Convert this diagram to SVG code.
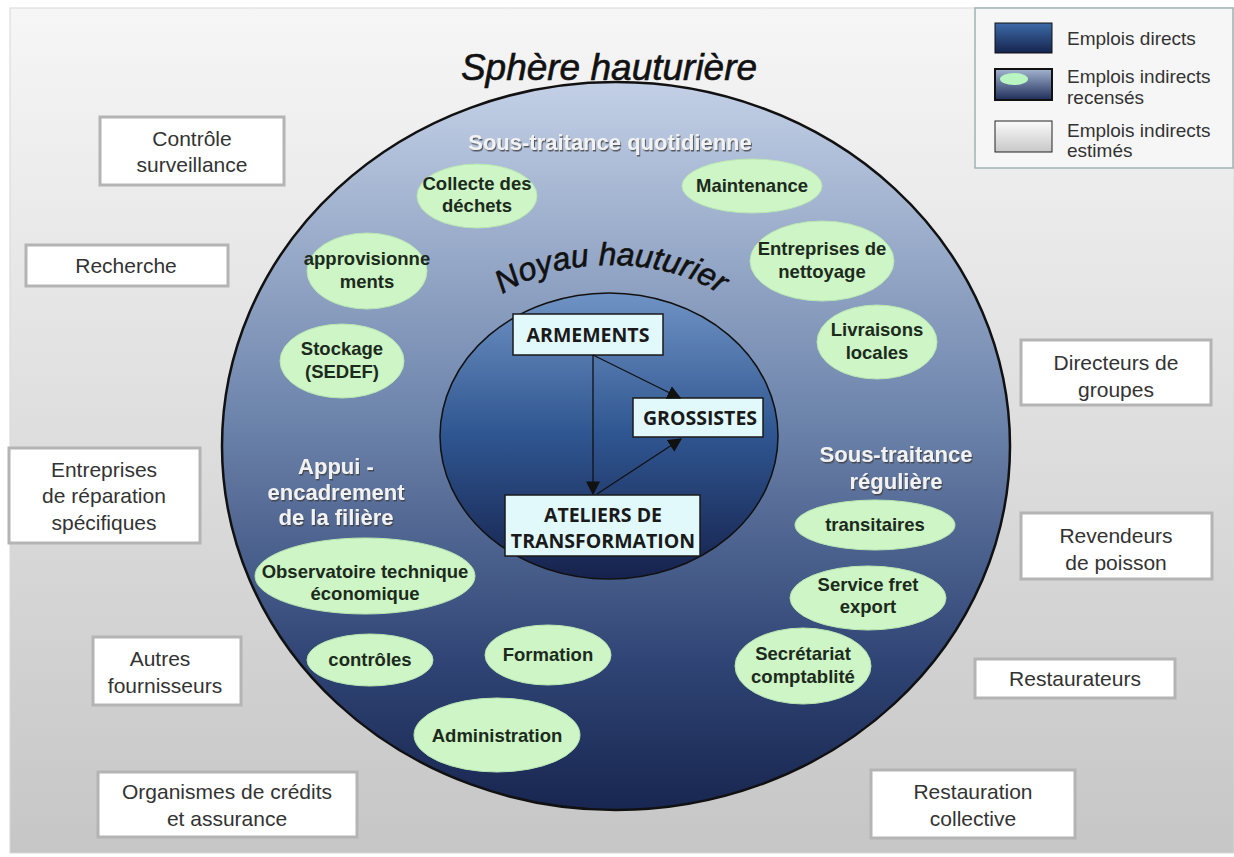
<svg xmlns="http://www.w3.org/2000/svg" width="1234" height="857" viewBox="0 0 1234 857">
<defs>
<linearGradient id="bg" x1="0" y1="0" x2="0" y2="1"><stop offset="0" stop-color="#f6f6f6"/><stop offset="1" stop-color="#c6c6c6"/></linearGradient>
<linearGradient id="outer" x1="0" y1="0" x2="0" y2="1"><stop offset="0" stop-color="#c3d0e6"/><stop offset="0.45" stop-color="#6f86ad"/><stop offset="0.8" stop-color="#2f4474"/><stop offset="1" stop-color="#182650"/></linearGradient>
<linearGradient id="inner" x1="0" y1="0" x2="0" y2="1"><stop offset="0" stop-color="#6f93c4"/><stop offset="0.5" stop-color="#2f5590"/><stop offset="1" stop-color="#16224c"/></linearGradient>
<linearGradient id="lg1" x1="0" y1="0" x2="0" y2="1"><stop offset="0" stop-color="#3d6aa8"/><stop offset="1" stop-color="#15244e"/></linearGradient>
<linearGradient id="lg2" x1="0" y1="0" x2="0" y2="1"><stop offset="0" stop-color="#a3b4d0"/><stop offset="1" stop-color="#1e2e5a"/></linearGradient>
<linearGradient id="lg3" x1="0" y1="0" x2="0" y2="1"><stop offset="0" stop-color="#fafafa"/><stop offset="1" stop-color="#c8c8c8"/></linearGradient>
<filter id="ts" x="-10%" y="-20%" width="120%" height="150%"><feDropShadow dx="1" dy="1.5" stdDeviation="0.6" flood-color="#3a3a3a" flood-opacity="0.8"/></filter>
<marker id="ah2" viewBox="0 0 10 10" refX="9" refY="5" markerWidth="14" markerHeight="14" orient="auto" markerUnits="userSpaceOnUse"><path d="M0,0 L10,5 L0,10 z" fill="#111"/></marker>
<path id="noyauArc" d="M471,345 A140,80 0 0 1 751,345"/>
</defs>
<style>
.box{fill:#ffffff;stroke:#b4b4b4;stroke-width:3}
.bt{font-family:"Liberation Sans",Arial,sans-serif;font-size:21px;fill:#333;text-anchor:middle}
.ell{fill:#cdf5c6;stroke:#b9e6b2;stroke-width:1}
.et{font-family:"Liberation Sans",Arial,sans-serif;font-weight:bold;font-size:18.5px;fill:#1c2a1c;text-anchor:middle}
.wt{font-family:"Liberation Sans",Arial,sans-serif;font-weight:bold;fill:#f2f2f2;text-anchor:middle;filter:url(#ts)}
.core{fill:#e2f9fc;stroke:#1a1a1a;stroke-width:1.5}
.ct{font-family:"Open Sans","Liberation Sans",sans-serif;font-weight:bold;font-size:19.5px;fill:#1a1a1a;text-anchor:middle}
.lt{font-family:"Liberation Sans",Arial,sans-serif;font-size:19px;fill:#333}
.conn{stroke:#111;stroke-width:1.3;fill:none}
</style>
<rect x="0" y="0" width="1234" height="857" fill="#ffffff"/>
<rect x="10" y="8" width="1224" height="845" fill="url(#bg)" stroke="#d8d8d8" stroke-width="1"/>

<g id="legend">
<rect x="975" y="8" width="258" height="160" fill="#f6f6f6" stroke="#9fb3b3" stroke-width="1.5"/>
<rect x="995" y="23" width="57" height="30" fill="url(#lg1)" stroke="#111" stroke-width="1"/>
<rect x="995" y="69" width="57" height="31" fill="url(#lg2)" stroke="#111" stroke-width="2"/>
<ellipse cx="1014" cy="79" rx="14" ry="6" fill="#b8f5c0"/>
<rect x="995" y="121" width="57" height="31" fill="url(#lg3)" stroke="#222" stroke-width="1"/>
<text class="lt" x="1067" y="45">Emplois directs</text>
<text class="lt" x="1067" y="83">Emplois indirects</text>
<text class="lt" x="1067" y="104">recensés</text>
<text class="lt" x="1067" y="137">Emplois indirects</text>
<text class="lt" x="1067" y="157">estimés</text>
</g>

<g id="sphere">
<ellipse cx="616" cy="446" rx="394" ry="364" fill="url(#outer)" stroke="#111" stroke-width="2.5"/>
<text x="609" y="80" font-family="Liberation Sans,Arial,sans-serif" font-style="italic" font-size="37" fill="#111" stroke="#111" stroke-width="0.6" text-anchor="middle">Sphère hauturière</text>
<text class="wt" x="610" y="150" font-size="22">Sous-traitance quotidienne</text>
<text class="wt" x="336" y="474" font-size="22">Appui -</text>
<text class="wt" x="336" y="500" font-size="22">encadrement</text>
<text class="wt" x="336" y="525" font-size="22">de la filière</text>
<text class="wt" x="896" y="462" font-size="22">Sous-traitance</text>
<text class="wt" x="896" y="489" font-size="22">régulière</text>
</g>

<g id="noyau">
<ellipse cx="609" cy="436" rx="169" ry="143" fill="url(#inner)" stroke="#111" stroke-width="1.5"/>
<text font-family="Liberation Sans,Arial,sans-serif" font-style="italic" font-size="32" fill="#111" stroke="#111" stroke-width="0.6"><textPath href="#noyauArc" startOffset="50%" text-anchor="middle">Noyau hauturier</textPath></text>
</g>

<g id="collecte"><ellipse class="ell" cx="477" cy="196" rx="60" ry="32"/><text class="et" x="477" y="190">Collecte des</text><text class="et" x="477" y="212">déchets</text></g>
<g id="maintenance"><ellipse class="ell" cx="752" cy="186" rx="70" ry="27"/><text class="et" x="752" y="192">Maintenance</text></g>
<g id="approvisionnements"><ellipse class="ell" cx="367" cy="271" rx="60" ry="38"/><text class="et" x="367" y="265">approvisionne</text><text class="et" x="367" y="288">ments</text></g>
<g id="nettoyage"><ellipse class="ell" cx="822" cy="261" rx="72" ry="40"/><text class="et" x="822" y="255">Entreprises de</text><text class="et" x="822" y="278">nettoyage</text></g>
<g id="stockage"><ellipse class="ell" cx="342" cy="361" rx="62" ry="37"/><text class="et" x="342" y="355">Stockage</text><text class="et" x="342" y="378">(SEDEF)</text></g>
<g id="livraisons"><ellipse class="ell" cx="877" cy="342" rx="60" ry="37"/><text class="et" x="877" y="336">Livraisons</text><text class="et" x="877" y="359">locales</text></g>
<g id="transitaires"><ellipse class="ell" cx="875" cy="525" rx="80" ry="25"/><text class="et" x="875" y="531">transitaires</text></g>
<g id="fret"><ellipse class="ell" cx="868" cy="598" rx="78" ry="32"/><text class="et" x="868" y="591">Service fret</text><text class="et" x="868" y="613">export</text></g>
<g id="secretariat"><ellipse class="ell" cx="803" cy="666" rx="68" ry="38"/><text class="et" x="803" y="660">Secrétariat</text><text class="et" x="803" y="683">comptablité</text></g>
<g id="observatoire"><ellipse class="ell" cx="365" cy="576" rx="110" ry="38"/><text class="et" x="365" y="578">Observatoire technique</text><text class="et" x="365" y="600">économique</text></g>
<g id="controles"><ellipse class="ell" cx="370" cy="660" rx="63" ry="26"/><text class="et" x="370" y="666">contrôles</text></g>
<g id="formation"><ellipse class="ell" cx="548" cy="655" rx="63" ry="30"/><text class="et" x="548" y="661">Formation</text></g>
<g id="administration"><ellipse class="ell" cx="497" cy="735" rx="83" ry="37"/><text class="et" x="497" y="742">Administration</text></g>

<g id="armements"><rect class="core" x="513" y="314" width="150" height="41"/><text class="ct" x="588" y="342">ARMEMENTS</text></g>
<g id="grossistes"><rect class="core" x="633" y="398" width="130" height="39"/><text class="ct" x="700" y="425">GROSSISTES</text></g>
<g id="ateliers"><rect class="core" x="505" y="495" width="195" height="61"/><text class="ct" x="603" y="522">ATELIERS DE</text><text class="ct" x="603" y="548">TRANSFORMATION</text></g>

<g id="connectors">
<line class="conn" x1="593" y1="355" x2="593" y2="494" marker-end="url(#ah2)"/>
<line class="conn" x1="593" y1="355" x2="680" y2="398" marker-end="url(#ah2)"/>
<line class="conn" x1="597" y1="494" x2="681" y2="439" marker-end="url(#ah2)"/>
</g>

<g id="controle-surveillance"><rect class="box" x="100" y="117" width="184" height="68"/><text class="bt" x="192" y="146">Contrôle</text><text class="bt" x="192" y="172">surveillance</text></g>
<g id="recherche"><rect class="box" x="26" y="245" width="202" height="41"/><text class="bt" x="126" y="273">Recherche</text></g>
<g id="reparation"><rect class="box" x="9" y="448" width="191" height="95"/><text class="bt" x="104" y="477">Entreprises</text><text class="bt" x="104" y="503">de réparation</text><text class="bt" x="104" y="530">spécifiques</text></g>
<g id="fournisseurs"><rect class="box" x="93" y="637" width="148" height="68"/><text class="bt" x="160" y="666">Autres</text><text class="bt" x="165" y="693">fournisseurs</text></g>
<g id="credits"><rect class="box" x="98" y="772" width="259" height="65"/><text class="bt" x="227" y="799">Organismes de crédits</text><text class="bt" x="227" y="826">et assurance</text></g>
<g id="directeurs"><rect class="box" x="1021" y="340" width="190" height="65"/><text class="bt" x="1116" y="370">Directeurs de</text><text class="bt" x="1116" y="397">groupes</text></g>
<g id="revendeurs"><rect class="box" x="1021" y="513" width="191" height="66"/><text class="bt" x="1116" y="543">Revendeurs</text><text class="bt" x="1116" y="570">de poisson</text></g>
<g id="restaurateurs"><rect class="box" x="975" y="659" width="200" height="39"/><text class="bt" x="1075" y="686">Restaurateurs</text></g>
<g id="restauration"><rect class="box" x="871" y="770" width="204" height="68"/><text class="bt" x="973" y="799">Restauration</text><text class="bt" x="973" y="826">collective</text></g>
</svg>
